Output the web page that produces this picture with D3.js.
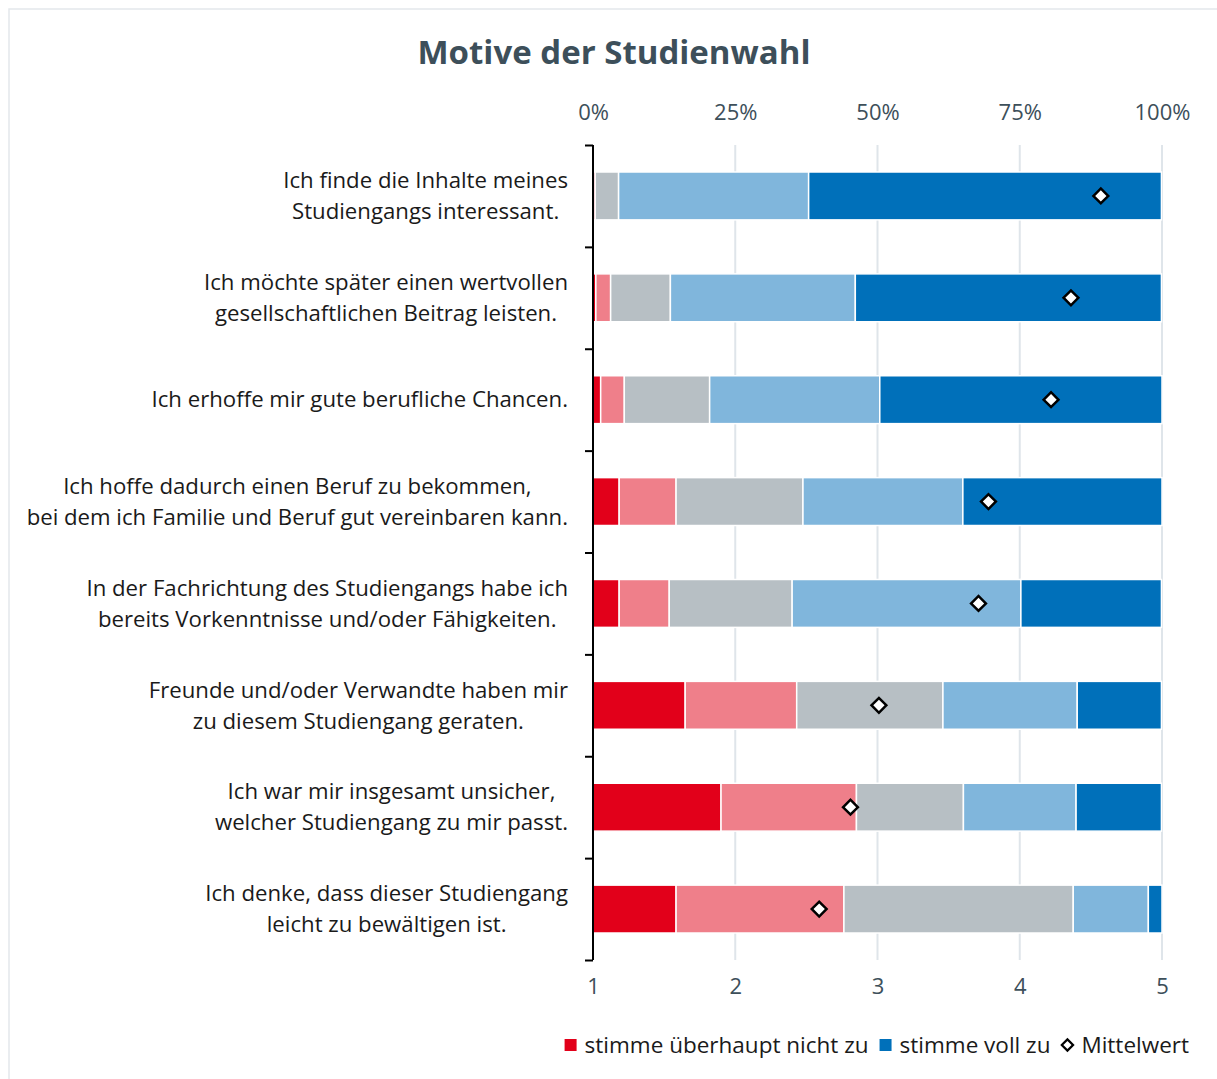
<!DOCTYPE html>
<html><head><meta charset="utf-8">
<script src="https://cdn.jsdelivr.net/npm/d3@7"></script>
<style>
html,body{margin:0;padding:0;background:#fff;}
svg{display:block;font-family:"Open Sans","Noto Sans",sans-serif;}
</style></head>
<body>
<svg id="chart" width="1217" height="1079"></svg>
<script>
const title = "Motive der Studienwahl";
const categories = [
  ["Ich finde die Inhalte meines", "Studiengangs interessant."],
  ["Ich möchte später einen wertvollen", "gesellschaftlichen Beitrag leisten."],
  ["Ich erhoffe mir gute berufliche Chancen."],
  ["Ich hoffe dadurch einen Beruf zu bekommen,", "bei dem ich Familie und Beruf gut vereinbaren kann."],
  ["In der Fachrichtung des Studiengangs habe ich", "bereits Vorkenntnisse und/oder Fähigkeiten."],
  ["Freunde und/oder Verwandte haben mir", "zu diesem Studiengang geraten."],
  ["Ich war mir insgesamt unsicher,", "welcher Studiengang zu mir passt."],
  ["Ich denke, dass dieser Studiengang", "leicht zu bewältigen ist."]
];
const seriesNames = ["stimme überhaupt nicht zu", "stimme eher nicht zu", "teils/teils", "stimme eher zu", "stimme voll zu"];
const s1 = [0, 0.5, 1.35, 4.6, 4.6, 16.2, 22.5, 14.6];
const s2 = [0.4, 2.6, 4.15, 10.0, 8.8, 19.6, 23.8, 29.5];
const s3 = [4.1, 10.5, 15.0, 22.3, 21.6, 25.7, 18.8, 40.3];
const s4 = [33.4, 32.5, 29.9, 28.1, 40.2, 23.6, 19.8, 13.2];
const s5 = [62.0, 53.8, 49.6, 35.0, 24.7, 14.8, 15.0, 2.4];
const means = [4.57, 4.36, 4.22, 3.78, 3.71, 3.01, 2.81, 2.59];
const pctTicks = [0, 25, 50, 75, 100];
const pctTickLabels = ["0%", "25%", "50%", "75%", "100%"];
const meanTicks = [1, 2, 3, 4, 5];
const legendLabels = ["stimme überhaupt nicht zu", "stimme voll zu", "Mittelwert"];

const colors = ["#E2001A", "#EF7F8A", "#B7BFC4", "#80B6DC", "#0070BA"];
const textCol = "#3d4f5a";
const fs = 22.2;

const svg = d3.select("#chart");
svg.append("rect").attr("x", 9).attr("y", 9).attr("width", 1240).attr("height", 1100)
  .attr("fill", "none").attr("stroke", "#e3e8ec").attr("stroke-width", 1.5);

const x = d3.scaleLinear().domain([0, 100]).range([593, 1162]);
const xm = d3.scaleLinear().domain([1, 5]).range([593, 1162]);
const idx = d3.range(categories.length);
const y = d3.scaleBand().domain(idx).range([145, 960]).paddingInner(0.53).paddingOuter(0.265);

svg.append("text").attr("x", 614).attr("y", 64).attr("text-anchor", "middle")
  .attr("font-size", 33).attr("font-weight", 700).attr("fill", textCol).text(title);

// gridlines
svg.append("g").selectAll("line").data(pctTicks.slice(1)).join("line")
  .attr("x1", d => x(d)).attr("x2", d => x(d)).attr("y1", 145).attr("y2", 960)
  .attr("stroke", "#dfe5ea").attr("stroke-width", 2);

// top axis
const topAxis = d3.axisTop(x).tickValues(pctTicks).tickFormat((d, i) => pctTickLabels[i]).tickSize(0).tickPadding(0);
const gTop = svg.append("g").attr("transform", "translate(0,120)").call(topAxis);
gTop.select(".domain").remove();
gTop.selectAll("text").attr("font-size", 22).attr("fill", textCol).attr("font-family", "'Open Sans',sans-serif");

// bottom axis
const botAxis = d3.axisBottom(xm).tickValues(meanTicks).tickFormat(d3.format("d")).tickSize(0).tickPadding(0);
const gBot = svg.append("g").attr("transform", "translate(0,978)").call(botAxis);
gBot.select(".domain").remove();
gBot.selectAll("text").attr("font-size", 22).attr("fill", textCol).attr("font-family", "'Open Sans',sans-serif");

// stacked bars
const stackData = idx.map(i => ({i, a: s1[i], b: s2[i], c: s3[i], d: s4[i], e: s5[i]}));
const series = d3.stack().keys(["a", "b", "c", "d", "e"])(stackData);
svg.append("g").selectAll("g").data(series).join("g")
  .attr("fill", (d, k) => colors[k])
  .selectAll("rect").data(d => d).join("rect")
  .attr("x", d => x(d[0])).attr("width", d => Math.max(0, x(d[1]) - x(d[0])))
  .attr("y", d => y(d.data.i)).attr("height", y.bandwidth())
  .attr("stroke", "#fff").attr("stroke-width", 1.5);

// left axis line with ticks at band boundaries
const leftAxis = d3.axisLeft(d3.scaleLinear().domain([0, categories.length]).range([145, 960]))
  .tickValues(d3.range(categories.length + 1)).tickSize(8).tickFormat("");
const gLeft = svg.append("g").attr("transform", "translate(593,0)").call(leftAxis);
gLeft.select(".domain").attr("stroke", "#000").attr("stroke-width", 2).attr("d", "M0,145V960");
gLeft.selectAll(".tick line").attr("stroke", "#000").attr("stroke-width", 2);

// category labels (lines centered, block right-aligned)
const lab = svg.append("g");
categories.forEach((lines, i) => {
  const g = lab.append("g");
  const cy = y(i) + y.bandwidth() / 2;
  const ts = lines.map((t, j) => g.append("text").attr("font-size", fs).attr("fill", "#1a1a1a")
    .attr("text-anchor", "middle").attr("dy", "0.35em")
    .attr("y", cy + (j - (lines.length - 1) / 2) * 31).text(t));
  const maxW = d3.max(ts, t => t.node().getComputedTextLength());
  ts.forEach(t => t.attr("x", 568 - maxW / 2));
});

// means
const diamond = d3.symbol().type(d3.symbolSquare).size(110);
svg.append("g").selectAll("path").data(idx).join("path")
  .attr("d", diamond)
  .attr("transform", i => `translate(${xm(means[i])},${y(i) + y.bandwidth() / 2}) rotate(45)`)
  .attr("fill", "#fff").attr("stroke", "#000").attr("stroke-width", 2.5);

// legend
const lg = svg.append("g").attr("font-size", 22.5).attr("fill", "#1a1a1a");
const ly = 1045;
const items = [];
[[0, "sq", colors[0]], [1, "sq", colors[4]], [2, "dia", null]].forEach(([k, type, col]) => {
  const g = lg.append("g");
  if (type === "sq") {
    g.append("rect").attr("x", 0).attr("y", ly - 6).attr("width", 12).attr("height", 12).attr("fill", col);
  } else {
    g.append("path").attr("d", d3.symbol().type(d3.symbolSquare).size(64)).attr("transform", `translate(6,${ly}) rotate(45)`)
      .attr("fill", "#fff").attr("stroke", "#000").attr("stroke-width", 2.2);
  }
  const t = g.append("text").attr("x", 20).attr("y", ly).attr("dy", "0.35em").text(legendLabels[k]);
  items.push({g, w: 20 + t.node().getComputedTextLength()});
});
const gap = 11;
const total = d3.sum(items, d => d.w) + gap * (items.length - 1);
let cx = 1189 - total;
items.forEach(it => { it.g.attr("transform", `translate(${cx},0)`); cx += it.w + gap; });
</script>
</body></html>
